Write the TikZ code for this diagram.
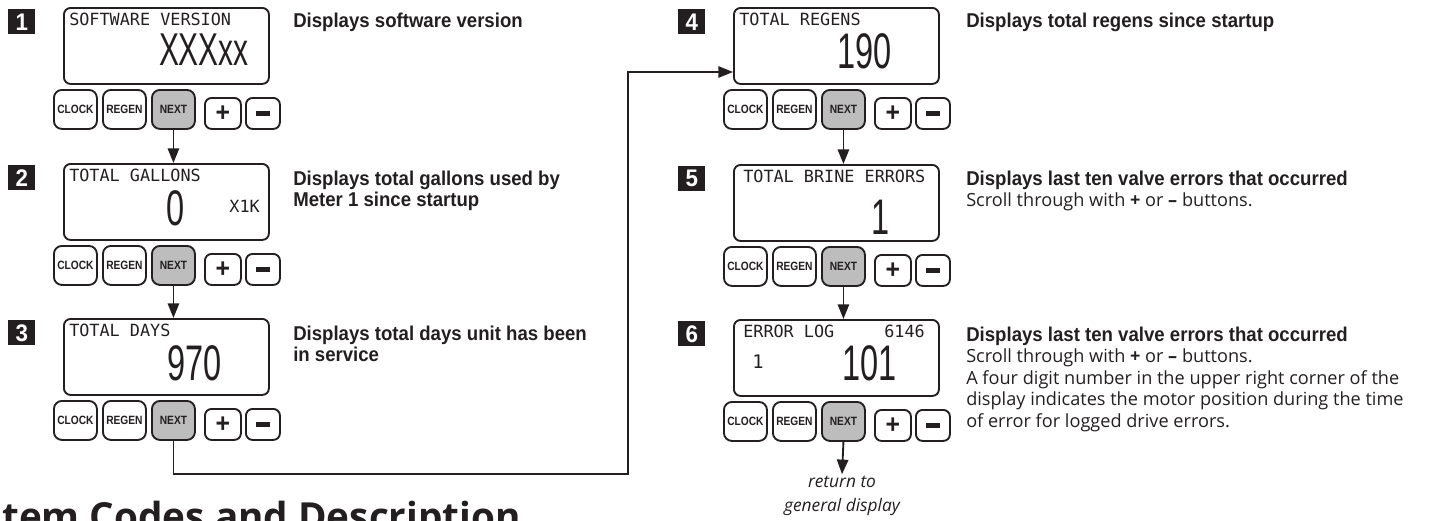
\documentclass[tikz,border=0pt]{standalone}
\usepackage{fontspec}
\setmainfont{Open Sans}
\newfontfamily\descf{Liberation Sans}[FakeStretch=0.93]
\newfontfamily\btnf{Liberation Sans}[FakeStretch=0.85]
\newfontfamily\numf{Liberation Sans}[FakeStretch=0.65]
\newfontfamily\lcdf{DejaVu Sans Mono}
\usetikzlibrary{arrows.meta}
\definecolor{ink}{HTML}{231F20}
\definecolor{btngray}{HTML}{BDBDBD}
\def\pxu{0.75pt}
\tikzset{
  disp/.style={draw=ink, line width=1.4pt, rounded corners=5pt, minimum width=205*\pxu, minimum height=76*\pxu, anchor=north west, inner sep=0pt},
  badge/.style={fill=ink, text=white, minimum width=27*\pxu, minimum height=25*\pxu, anchor=north west, inner sep=0pt, font=\descf\bfseries\fontsize{18}{18}\selectfont},
  btn/.style={draw=ink, fill=white, line width=1.4pt, rounded corners=6pt, minimum width=43*\pxu, minimum height=39*\pxu, anchor=north west, inner sep=0pt, text=ink, font=\btnf\bfseries\fontsize{9}{9}\selectfont},
  sbtn/.style={draw=ink, fill=white, line width=1.4pt, rounded corners=5pt, minimum width=36*\pxu, minimum height=31*\pxu, anchor=north west, inner sep=0pt, text=ink, font=\descf\bfseries\fontsize{20}{20}\selectfont},
  lcd/.style={text=ink, inner sep=0pt, font=\lcdf\fontsize{12.6}{12.6}\selectfont},
  bignum/.style={text=ink, inner sep=0pt, font=\numf\fontsize{37.5}{37.5}\selectfont},
  descb/.style={text=ink, inner sep=0pt, align=left, font=\descf\bfseries\fontsize{15}{15.75}\selectfont},
  descr/.style={text=ink, inner sep=0pt, align=left, font=\fontsize{13.6}{16.1}\selectfont},
  arr/.style={draw=ink, line width=1.4pt, -{Triangle[length=11pt,width=8.5pt]}},
  conn/.style={draw=ink, line width=1.4pt}
}
\newcommand\ctrlpanel[3]{%
  \node[disp] (d#1) at (#2,#3) {};
  \node[badge] (b#1) at (#2-55,#3+2) {#1};
  \node[btn] (clk#1) at (#2-10,#3+82) {CLOCK};
  \node[btn] (reg#1) at (#2+39,#3+82) {REGEN};
  \node[btn,fill=btngray] (nxt#1) at (#2+88,#3+82) {NEXT};
  \node[sbtn] (pl#1) at (#2+141,#3+90) {+};
  \node[sbtn,minimum width=34*\pxu] (mi#1) at (#2+182,#3+90) {\rule{10pt}{3.6pt}};
}
\begin{document}
\begin{tikzpicture}[x=0.75pt,y=-0.75pt]
\useasboundingbox (0,0) rectangle (1431,521);
\clip (0,0) rectangle (1431,521);

\ctrlpanel{1}{63}{7}
\ctrlpanel{2}{63}{163}
\ctrlpanel{3}{63}{318}
\ctrlpanel{4}{733}{7}
\ctrlpanel{5}{733}{164}
\ctrlpanel{6}{733}{319}

% display contents
\node[lcd,anchor=base west] (h1) at (69,25) {SOFTWARE VERSION};
\node[bignum,anchor=base east,font=\numf\fontsize{34.5}{34.5}\selectfont] (v1) at (249,65) {XXXxx};
\node[lcd,anchor=base west] (h2) at (69,181) {TOTAL GALLONS};
\node[bignum,anchor=base east] (v2) at (185,225) {0};
\node[lcd,anchor=base east] (u2) at (260,212) {X1K};
\node[lcd,anchor=base west] (h3) at (69,336) {TOTAL DAYS};
\node[bignum,anchor=base east] (v3) at (222,380) {970};
\node[lcd,anchor=base west] (h4) at (739,25) {TOTAL REGENS};
\node[bignum,anchor=base east] (v4) at (892,68) {190};
\node[lcd,anchor=base west] (h5) at (743,182) {TOTAL BRINE ERRORS};
\node[bignum,anchor=base east] (v5) at (890,234) {1};
\node[lcd,anchor=base west] (h6) at (743,337) {ERROR LOG};
\node[lcd,anchor=base east] (p6) at (925,337) {6146};
\node[lcd,anchor=base west,font=\lcdf\fontsize{14}{14}\selectfont] (n6) at (752,368) {1};
\node[bignum,anchor=base east] (v6) at (897,380) {101};

% descriptions (top = first baseline - 14.6)
\node[descb,anchor=north west] (e1) at (293,12.4) {Displays software version};
\node[descb,anchor=north west] (e2) at (293,170.4) {Displays total gallons used by\\Meter 1 since startup};
\node[descb,anchor=north west] (e3) at (293,325.4) {Displays total days unit has been\\in service};
\node[descb,anchor=north west] (e4) at (966,12.4) {Displays total regens since startup};
\node[descr,anchor=north west] (e5) at (966,170.4) {{\descf\bfseries\fontsize{15}{15.75}\selectfont Displays last ten valve errors that occurred}\\Scroll through with \textbf{+} or \textbf{–} buttons.};
\node[descr,anchor=north west] (e6) at (966,326.4) {{\descf\bfseries\fontsize{15}{15.75}\selectfont Displays last ten valve errors that occurred}\\Scroll through with \textbf{+} or \textbf{–} buttons.\\A four digit number in the upper right corner of the\\display indicates the motor position during the time\\of error for logged drive errors.};

% arrows
\draw[arr] (nxt1.south) -- (nxt1.south |- d2.north);
\draw[arr] (nxt2.south) -- (nxt2.south |- d3.north);
\draw[arr] (nxt4.south) -- (nxt4.south |- d5.north);
\draw[arr] (nxt5.south) -- (nxt5.south |- d6.north);
\coordinate (j1) at (628,474);
\coordinate (j2) at (628,72);
\draw[arr] (nxt3.south) |- (j1) -- (j2) -- (j2 -| d4.west);

\node[text=ink,align=center,inner sep=1pt,font=\itshape\fontsize{13}{18.5}\selectfont] (ret) at (842,496) {return to\\general display};
\draw[arr] (nxt6.south) -- (ret.north);

% cut heading
\node[text=ink,anchor=base west,inner sep=0pt,font=\bfseries\fontsize{29}{29}\selectfont] (hd) at (2,530) {tem Codes and Description};
\end{tikzpicture}
\end{document}
